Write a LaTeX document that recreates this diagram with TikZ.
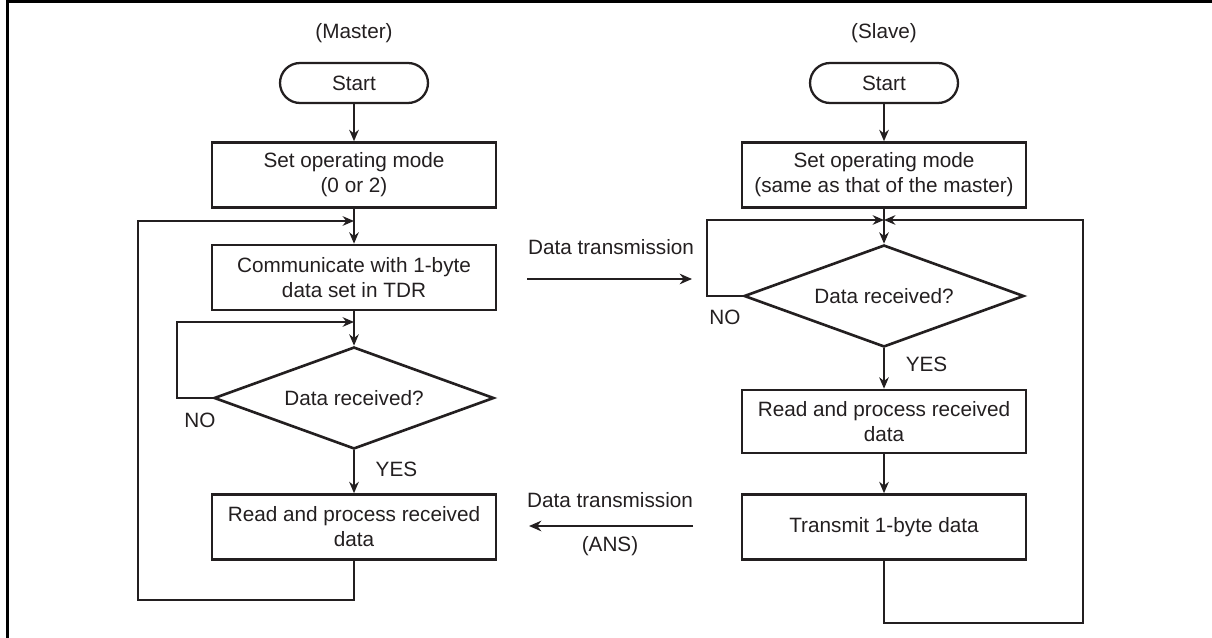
\documentclass[tikz,border=0pt]{standalone}
\usepackage{fontspec}
\setmainfont{Liberation Sans}
\usepackage{tikz}
\usetikzlibrary{shapes.geometric, arrows.meta, positioning}
\definecolor{mydark}{RGB}{35,31,32}
\tikzset{
  block/.style={rectangle, draw=mydark, text=mydark,
    minimum width=5.68cm, minimum height=1.3cm, inner sep=0pt,
    align=center, line width=1.5pt},
  termnode/.style={rectangle, draw=mydark, text=mydark,
    minimum width=2.96cm, minimum height=0.8cm, inner sep=0pt,
    rounded corners=0.4cm, line width=1.3pt},
  decision/.style={diamond, draw=mydark, text=mydark, aspect=2.75,
    minimum width=5.6cm, minimum height=2.04cm, inner sep=0pt,
    line width=1.5pt},
  arrow/.style={-{Stealth[length=6.5pt, width=5.5pt]}, line width=0.75pt, color=mydark},
  txarrow/.style={-{Stealth[length=7pt, width=6pt]}, line width=1.3pt, color=mydark},
  line/.style={line width=0.75pt, color=mydark}
}

\begin{document}
\begin{tikzpicture}[
  x=0.02cm, y=-0.02cm,
  font=\fontsize{11.8}{14.2}\selectfont,
  lbl/.style={text=mydark, inner sep=0pt},
  frame/.style={line width=1.7pt, color=black}
]
  \useasboundingbox (0,0) rectangle (1212,638);
  \draw[frame] (1212,1.5) -- (7.5,1.5) -- (7.5,638);

  % Column headings
  \node[lbl] (mhead) at (354,33) {(Master)};
  \node[lbl] (shead) at (884,33) {(Slave)};

  % Master side
  \node[termnode] (mstart) at (354,83) {Start};
  \node[block] (mset) at (354,175) {Set operating mode\\(0 or 2)};
  \node[block] (mcomm) at (354,277.5) {Communicate with 1-byte\\data set in TDR};
  \node[decision] (mdec) at (354,398) {Data received?};
  \node[block] (mread) at (354,527) {Read and process received\\data};
  \coordinate (mjoin) at (354,221);
  \coordinate (mwait) at (354,322);

  % Slave side
  \node[termnode] (sstart) at (884,83) {Start};
  \node[block] (sset) at (884,175) {Set operating mode\\(same as that of the master)};
  \node[decision] (sdec) at (884,296) {Data received?};
  \node[block, minimum height=1.26cm] (sread) at (884,421.5) {Read and process received\\data};
  \node[block] (strans) at (884,527) {Transmit 1-byte data};
  \coordinate (sjoin) at (884,220);

  % Master flow
  \draw[arrow] (mstart) -- (mset);
  \draw[arrow] (mset) -- (mcomm);
  \draw[arrow] (mcomm) -- (mdec);
  \draw[arrow] (mdec) -- node[lbl, right=12pt, pos=0.45] {YES} (mread);
  \draw[arrow] (mdec.west) -- (177,398) -- (177,322) -- (mwait);
  \draw[arrow] (mread.south) -- (354,600) -- (138,600) -- (138,221) -- (mjoin);
  \node[lbl] (mno) at (200,420) {NO};

  % Slave flow
  \draw[arrow] (sstart) -- (sset);
  \draw[arrow] (sset) -- (sdec);
  \draw[arrow] (sdec) -- node[lbl, right=12pt, pos=0.4] {YES} (sread);
  \draw[arrow] (sread) -- (strans);
  \draw[arrow] (sdec.west) -- (707,296) -- (707,220) -- (sjoin);
  \draw[arrow] (strans.south) -- (884,623) -- (1083,623) -- (1083,220) -- (sjoin);
  \node[lbl] (sno) at (725,317) {NO};

  % Data transmission between master and slave
  \coordinate (txa) at (527,279);
  \coordinate (txb) at (692,279);
  \coordinate (rxa) at (693,526);
  \coordinate (rxb) at (529,526);
  \draw[txarrow] (txa) -- (txb);
  \draw[txarrow] (rxa) -- (rxb);
  \node[lbl] (txlbl) at (611,247) {Data transmission};
  \node[lbl] (rxlbl) at (610,500) {Data transmission};
  \node[lbl] (anslbl) at (610,546) {(ANS)};
\end{tikzpicture}
\end{document}
